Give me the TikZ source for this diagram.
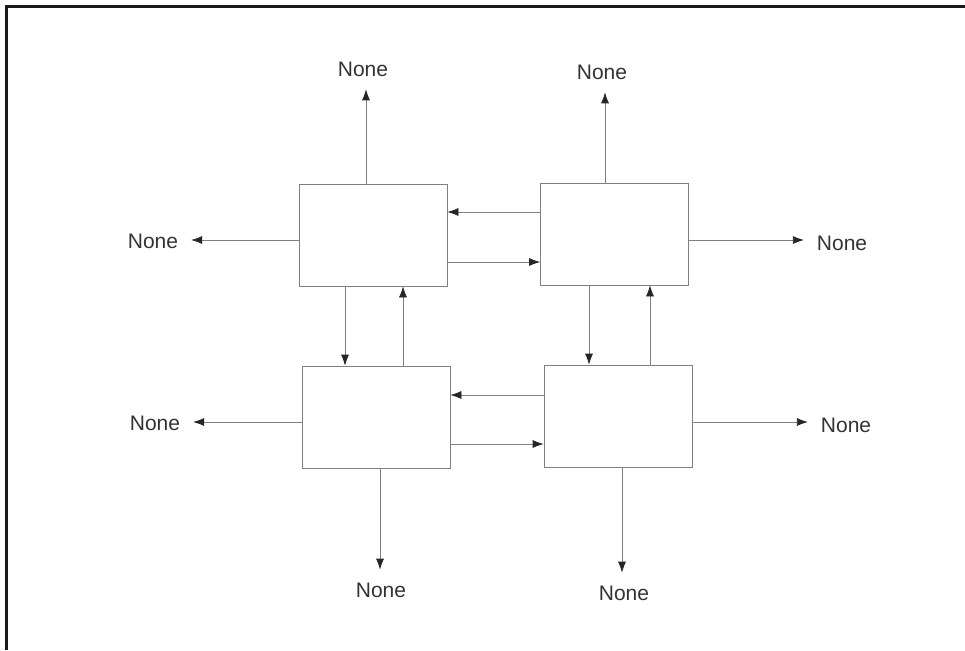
\documentclass[tikz,border=0pt]{standalone}
\usepackage{fontspec}
\setmainfont{Liberation Sans}
\usetikzlibrary{arrows.meta}
\tikzset{%
	block/.style    	= {draw=black!50, line width=0.7pt, rectangle, inner sep=0pt, minimum height = 102pt, minimum width = 148pt},
	outtext/.style		= {inner sep=0pt, outer sep=13pt, font=\fontsize{21}{25}\selectfont, text=black!80}, % Output label
	link/.style			= {draw=black!50, line width=0.7pt, ->}, % Connector
	frame/.style		= {draw=black!90, line width=3.5pt}
}

\begin{document}
\begin{tikzpicture}[x=1pt, y=-1pt, >={Latex[length=11pt, width=8pt, color=black!85]}]
	\useasboundingbox (0,0) rectangle (965,650);
	\draw[frame] (6.5,650) -- (6.5,6.5) -- (965,6.5);

	% The four blocks
	\node at (373,235) [block] (tl) {};
	\node at (614.5,234) [block] (tr) {};
	\node at (376,417) [block] (bl) {};
	\node at (618,416) [block] (br) {};

	% Outputs
	\node at (363,69) [outtext] (ntl) {None};
	\node at (602,72) [outtext] (ntr) {None};
	\node at (153,241) [outtext] (nl1) {None};
	\node at (842,243) [outtext] (nr1) {None};
	\node at (155,423) [outtext] (nl2) {None};
	\node at (846,425) [outtext] (nr2) {None};
	\node at (381,590) [outtext] (nb1) {None};
	\node at (624,593) [outtext] (nb2) {None};

	% Joining blocks
	\draw[link] (tr.west |- 0,212) -- (tl.east |- 0,212);
	\draw[link] (tl.east |- 0,262) -- (tr.west |- 0,262);
	\draw[link] (br.west |- 0,395) -- (bl.east |- 0,395);
	\draw[link] (bl.east |- 0,444) -- (br.west |- 0,444);
	\draw[link] (tl.south -| 345,0) -- (bl.north -| 345,0);
	\draw[link] (bl.north -| 403,0) -- (tl.south -| 403,0);
	\draw[link] (tr.south -| 589,0) -- (br.north -| 589,0);
	\draw[link] (br.north -| 650,0) -- (tr.south -| 650,0);

	% Blocks to outputs
	\draw[link] (tl.north -| 366,0) -- (ntl.south -| 366,0);
	\draw[link] (tr.north -| 605,0) -- (ntr.south -| 605,0);
	\draw[link] (tl.west |- 0,240) -- (nl1.east |- 0,240);
	\draw[link] (tr.east |- 0,240) -- (nr1.west |- 0,240);
	\draw[link] (bl.west |- 0,422) -- (nl2.east |- 0,422);
	\draw[link] (br.east |- 0,422) -- (nr2.west |- 0,422);
	\draw[link] (bl.south -| 380,0) -- (nb1.north -| 380,0);
	\draw[link] (br.south -| 622,0) -- (nb2.north -| 622,0);
\end{tikzpicture}
\end{document}
